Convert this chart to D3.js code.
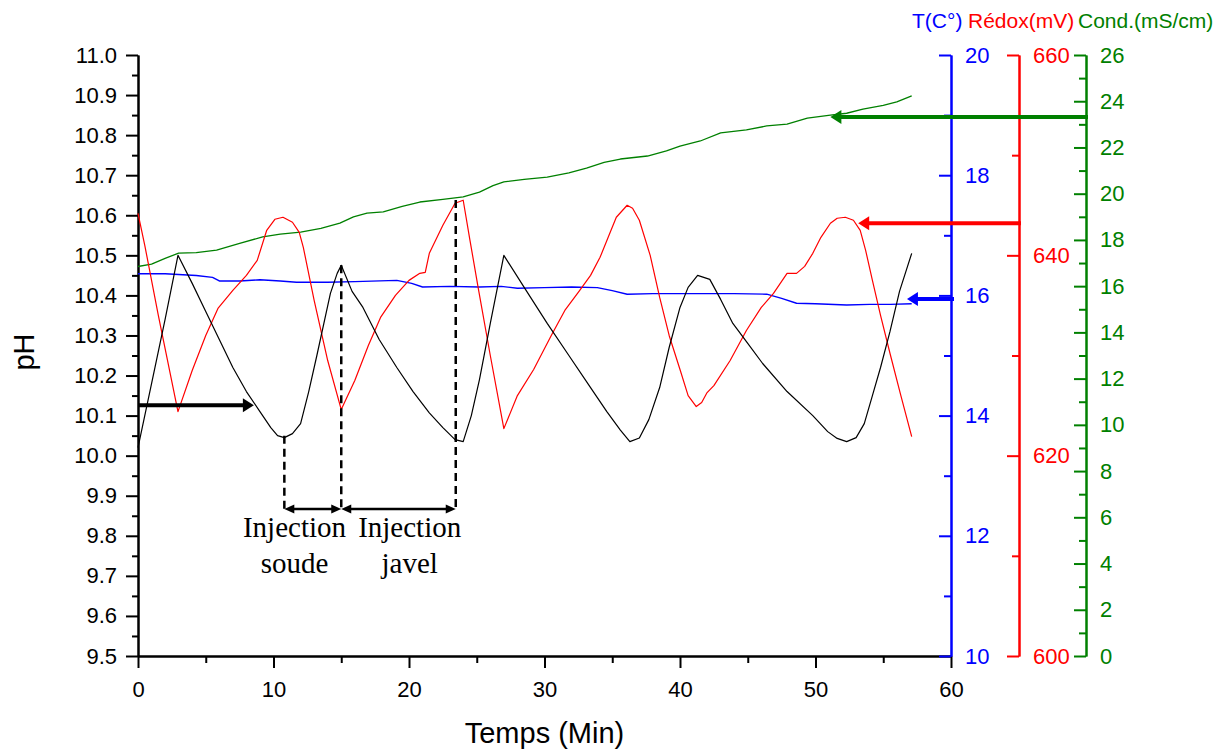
<!DOCTYPE html>
<html><head><meta charset="utf-8">
<script src="https://cdn.jsdelivr.net/npm/d3@7"></script>
<style>body{margin:0;background:#fff} svg{display:block}</style>
</head><body>
<svg id="chart" width="1226" height="749"></svg>
<script>
// ---------- DATA ----------
const phTime = [0,1,2,2.95,4,5,6,7,8,9,9.8,10.3,10.8,11.4,12,12.6,13.2,14.2,14.7,15,15.8,16.6,17.8,19.1,20.3,21.5,22.5,23.4,24,24.6,25.2,26,27,28.5,30.2,31.8,33.4,34.6,35.6,36.3,37,37.7,38.5,39.2,40,40.6,41.3,42.2,43,43.9,45,46.1,47.9,49.8,50.9,51.6,52.3,53,53.6,54.2,54.8,55.5,56.2,57.1];
const phValues = [10.02,10.18,10.34,10.50,10.43,10.36,10.29,10.22,10.16,10.11,10.07,10.05,10.045,10.055,10.08,10.16,10.25,10.405,10.455,10.475,10.41,10.37,10.29,10.22,10.16,10.107,10.07,10.04,10.035,10.1,10.19,10.33,10.50,10.42,10.33,10.25,10.17,10.11,10.064,10.035,10.044,10.09,10.17,10.27,10.37,10.42,10.45,10.44,10.39,10.33,10.28,10.23,10.16,10.10,10.06,10.043,10.035,10.045,10.08,10.15,10.22,10.31,10.41,10.505];

const redoxTime = [0,0.5,1.5,2.95,4,5,5.9,7,8,8.8,9.5,10.1,10.7,11.4,11.9,12.2,13,14,15,16,17,17.9,19,20,20.8,21.2,21.5,22.5,23.4,24,24.5,25.1,26,27,28,29.2,30.5,31.5,32.6,33.4,34.1,34.7,35.3,36.1,36.5,37,37.8,38.5,39.2,40,40.6,41.2,41.6,42,42.5,43.7,44.9,46,46.9,47.9,48.6,49.2,49.8,50.4,51.1,51.6,52.2,52.8,53.3,53.7,54.2,54.8,55.5,56.3,57.1];
const redoxValues = [644.2,641,634,624.4,628.5,632,634.7,636.5,638,639.5,642.5,643.6,643.8,643.3,642.3,640.8,635.5,629.5,624.6,627.5,631,633.8,636,637.5,638.2,638.3,640.2,643,645.2,645.5,641.5,636.8,630,622.7,626,628.6,632,634.5,636.5,638,639.8,641.8,643.8,645.0,644.7,643.5,640,635.8,632,628.6,626,624.9,625.3,626.3,627,629.5,632.5,634.8,636.2,638.2,638.2,638.9,640.2,641.8,643.2,643.7,643.8,643.5,642.5,640.5,637.5,634,630.2,626,621.9];

const tempTime = [0,2,4.3,5.5,6,7.5,9,10.5,11.7,14,16,19.1,20.2,21,23,25.2,26.8,28,30,32,33.9,35,36.1,38,40,42,44,46.4,47.5,48.6,50,52.3,54,55.5,57.1];
const tempValues = [16.36,16.36,16.33,16.30,16.24,16.24,16.26,16.24,16.22,16.22,16.23,16.25,16.2,16.14,16.15,16.14,16.15,16.12,16.13,16.14,16.13,16.08,16.02,16.03,16.03,16.03,16.03,16.02,15.95,15.87,15.86,15.84,15.85,15.85,15.86];

const condTime = [0,1,2,3,4.3,5.8,7.5,9.2,10.5,12,13.5,14.9,15.9,16.9,18.1,19.5,20.8,22.5,24,25.2,26.2,27,28.5,30.2,31.8,33.1,34.4,35.6,37.6,39,40,41.5,43,44.9,46.4,47.9,49.4,51.1,52.3,53.5,55,56,57.1];
const condValues = [16.85,16.95,17.2,17.43,17.45,17.56,17.85,18.13,18.25,18.34,18.5,18.73,19.0,19.16,19.21,19.45,19.64,19.75,19.86,20.07,20.35,20.51,20.62,20.72,20.9,21.11,21.35,21.50,21.63,21.85,22.06,22.28,22.63,22.76,22.93,23.01,23.27,23.40,23.48,23.66,23.82,23.97,24.23];

const xTicks = [0,10,20,30,40,50,60];
const phTicks = [9.5,9.6,9.7,9.8,9.9,10.0,10.1,10.2,10.3,10.4,10.5,10.6,10.7,10.8,10.9,11.0];
const tempTicks = [10,12,14,16,18,20];
const redoxTicks = [600,620,640,660];
const condTicks = [0,2,4,6,8,10,12,14,16,18,20,22,24,26];

// annotations (data units)
const dashTimes = [10.8, 15.0, 23.45];
const dashTopPH = [10.05, 10.475, 10.638];
const bracketPH = 9.867;
const injLines = [["Injection","soude"],["Injection","javel"]];
const injTimes = [11.55, 20.05];
const blackArrow = {ph: 10.126, t0: 0, t1: 8.55};
const tempArrow = {v: 15.94, tip: 56.75};
const redoxArrow = {v: 643.2, tip: 53.15};
const condArrow = {v: 23.32, tip: 51.1};

// ---------- CHART ----------
const BLUE="#0000ff", RED="#ff0000", GREEN="#008000";
const svg = d3.select("#chart");
const font = "'Liberation Sans', Arial, sans-serif";
const x = d3.scaleLinear().domain([0,60]).range([138,951]);
const yPH = d3.scaleLinear().domain([9.5,11]).range([656,55]);
const yT = d3.scaleLinear().domain([10,20]).range([656,55]);
const yR = d3.scaleLinear().domain([600,660]).range([656,55]);
const yC = d3.scaleLinear().domain([0,26]).range([656,55]);
const axT = 951, axR = 1019, axC = 1086;

function styleAxis(g, color){
  g.selectAll("path").attr("stroke", color).attr("stroke-width", 2);
  g.selectAll("line").attr("stroke", color).attr("stroke-width", 2);
  g.selectAll("text").attr("fill", color).attr("font-family", font).attr("font-size", 22);
}
function mid(arr){ const r=[]; for(let i=0;i<arr.length-1;i++) r.push((arr[i]+arr[i+1])/2); return r; }

// left pH axis
let g = svg.append("g").attr("transform","translate(138,0)")
  .call(d3.axisLeft(yPH).tickValues(mid(phTicks)).tickSize(6).tickSizeOuter(0).tickFormat(""));
styleAxis(g,"#000");
g = svg.append("g").attr("transform","translate(138,0)")
  .call(d3.axisLeft(yPH).tickValues(phTicks).tickSize(12).tickSizeOuter(0).tickPadding(9).tickFormat(d3.format(".1f")));
styleAxis(g,"#000");

// bottom axis
g = svg.append("g").attr("transform","translate(0,656)")
  .call(d3.axisBottom(x).tickValues(mid(xTicks)).tickSize(7).tickSizeOuter(0).tickFormat(""));
styleAxis(g,"#000");
g = svg.append("g").attr("transform","translate(0,656)")
  .call(d3.axisBottom(x).tickValues(xTicks).tickSize(12).tickSizeOuter(0).tickPadding(13).tickFormat(d3.format("d")));
styleAxis(g,"#000");

// right axes
function rightAxis(pos, scale, ticks, color){
  let a = svg.append("g").attr("transform",`translate(${pos},0)`)
    .call(d3.axisRight(scale).tickValues(mid(ticks)).tickSize(-7).tickSizeOuter(0).tickFormat(""));
  styleAxis(a,color);
  a = svg.append("g").attr("transform",`translate(${pos},0)`)
    .call(d3.axisRight(scale).tickValues(ticks).tickSize(-12).tickSizeOuter(0).tickPadding(14).tickFormat(d3.format("d")));
  styleAxis(a,color);
}
rightAxis(axT, yT, tempTicks, BLUE);
rightAxis(axR, yR, redoxTicks, RED);
rightAxis(axC, yC, condTicks, GREEN);

// series
function series(tArr, vArr, scale, color, w){
  const pts = tArr.map((t,i)=>[t, vArr[i]]);
  svg.append("path").datum(pts)
    .attr("fill","none").attr("stroke",color).attr("stroke-width",w).attr("stroke-linejoin","round")
    .attr("d", d3.line().x(d=>x(d[0])).y(d=>scale(d[1])));
}
series(condTime, condValues, yC, GREEN, 1.3);
series(tempTime, tempValues, yT, BLUE, 1.4);
series(redoxTime, redoxValues, yR, RED, 1.2);
series(phTime, phValues, yPH, "#000", 1.2);

// arrows
function arrow(x0, y0, x1, y1, color, sw, hl, hw){
  const dir = Math.sign(x1 - x0);
  svg.append("line").attr("x1",x0).attr("y1",y0).attr("x2",x1 - dir*hl*0.8).attr("y2",y1)
    .attr("stroke",color).attr("stroke-width",sw);
  svg.append("path").attr("fill",color)
    .attr("d",`M${x1},${y1}L${x1-dir*hl},${y1-hw}L${x1-dir*hl},${y1+hw}Z`);
}
arrow(x(blackArrow.t0), yPH(blackArrow.ph), x(blackArrow.t1), yPH(blackArrow.ph), "#000", 4, 11, 7);
arrow(axT+3, yT(tempArrow.v), x(tempArrow.tip), yT(tempArrow.v), BLUE, 4, 11, 7);
arrow(axR+2, yR(redoxArrow.v), x(redoxArrow.tip), yR(redoxArrow.v), RED, 4, 11, 7);
arrow(axC+2, yC(condArrow.v), x(condArrow.tip), yC(condArrow.v), GREEN, 4, 11, 7);

// dashed lines
dashTimes.forEach((t,i)=>{
  svg.append("line").attr("x1",x(t)).attr("x2",x(t)).attr("y1",yPH(dashTopPH[i])).attr("y2",yPH(bracketPH))
    .attr("stroke","#000").attr("stroke-width",2.5).attr("stroke-dasharray","8,5");
});
// double arrows
function dbl(xa, xb, yy){
  svg.append("line").attr("x1",xa+6).attr("x2",xb-6).attr("y1",yy).attr("y2",yy).attr("stroke","#000").attr("stroke-width",2.5);
  svg.append("path").attr("fill","#000").attr("d",`M${xa},${yy}L${xa+10},${yy-4.5}L${xa+10},${yy+4.5}Z`);
  svg.append("path").attr("fill","#000").attr("d",`M${xb},${yy}L${xb-10},${yy-4.5}L${xb-10},${yy+4.5}Z`);
}
for(let i=0;i<dashTimes.length-1;i++) dbl(x(dashTimes[i]), x(dashTimes[i+1]), yPH(bracketPH));

// injection labels
injLines.forEach((lines,i)=>{
  lines.forEach((s,j)=>{
    svg.append("text").attr("x",x(injTimes[i])).attr("y",537 + j*36)
      .attr("text-anchor","middle").attr("font-family","'Liberation Serif','Times New Roman',serif")
      .attr("font-size",29).attr("fill","#000").text(s);
  });
});

// axis titles
svg.append("text").attr("x",(138+951)/2).attr("y",743).attr("text-anchor","middle")
  .attr("font-family",font).attr("font-size",29).text("Temps (Min)");
svg.append("text").attr("transform","translate(34,352) rotate(-90)").attr("text-anchor","middle")
  .attr("font-family",font).attr("font-size",29).text("pH");

svg.append("text").attr("x",912).attr("y",28).attr("font-family",font).attr("font-size",21).attr("fill",BLUE).text("T(C°)");
svg.append("text").attr("x",968).attr("y",28).attr("font-family",font).attr("font-size",21).attr("fill",RED).text("Rédox(mV)");
svg.append("text").attr("x",1078).attr("y",28).attr("font-family",font).attr("font-size",21).attr("fill",GREEN).text("Cond.(mS/cm)");
</script>
</body></html>
